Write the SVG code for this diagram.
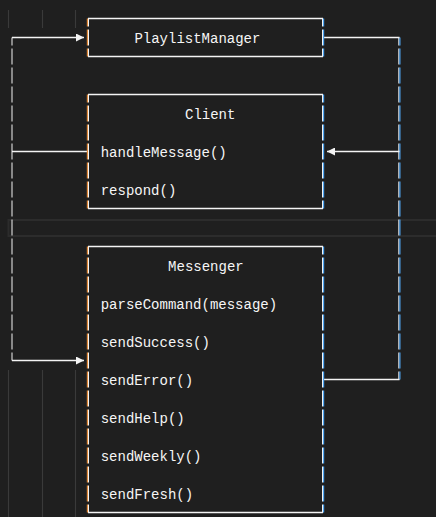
<svg xmlns="http://www.w3.org/2000/svg" width="436" height="517" viewBox="0 0 436 517">
<style>
.t{font-family:"Liberation Mono","DejaVu Sans Mono",monospace;font-size:14px;fill:#f6f6f6}
.h{stroke:#f4f4f4;stroke-width:1.5;fill:none}
.vl{stroke:#e0893a;stroke-width:1.2;stroke-dasharray:16 3;stroke-dashoffset:8;fill:none}
.vw{stroke:#f4f4f4;stroke-width:1;stroke-dasharray:16 3;stroke-dashoffset:8;fill:none}
.vb{stroke:#4ea3f0;stroke-width:1.2;stroke-dasharray:16 3;stroke-dashoffset:8;fill:none}
.g{stroke:#3a3a3a;stroke-width:1.2}
.band{stroke:#2c2c2c;stroke-width:2;fill:none}
</style>
<defs>
<marker id="ar" viewBox="0 0 8 8" refX="8" refY="4" markerWidth="8" markerHeight="8" markerUnits="userSpaceOnUse" orient="auto">
<path d="M0,0 L8,4 L0,8 Z" fill="#f4f4f4"/>
</marker>
</defs>
<rect width="436" height="517" fill="#1f1f1f"/>
<g id="grid">
<line class="g" x1="8.5" y1="10" x2="8.5" y2="28"/>
<line class="g" x1="42.5" y1="10" x2="42.5" y2="28"/>
<line class="g" x1="75.5" y1="10" x2="75.5" y2="28"/>
<line class="g" x1="8.5" y1="370" x2="8.5" y2="517"/>
<line class="g" x1="42.5" y1="370" x2="42.5" y2="517"/>
<line class="g" x1="75.5" y1="370" x2="75.5" y2="517"/>
<path class="band" d="M436,220 H8.5 V236 H436"/>
</g>
<g id="connectors">
<line class="vw" x1="12" y1="37.5" x2="12" y2="360.5"/>
<line class="h" x1="12" y1="37.5" x2="84" y2="37.5" marker-end="url(#ar)"/>
<line class="h" x1="12" y1="151.5" x2="88" y2="151.5"/>
<line class="h" x1="12" y1="360.5" x2="84" y2="360.5" marker-end="url(#ar)"/>
<line class="vw" x1="398.8" y1="37.5" x2="398.8" y2="379.5"/>
<line class="vb" x1="399.9" y1="37.5" x2="399.9" y2="379.5"/>
<line class="h" x1="323" y1="37.5" x2="399.5" y2="37.5"/>
<line class="h" x1="399.5" y1="151.5" x2="327" y2="151.5" marker-end="url(#ar)"/>
<line class="h" x1="323" y1="379.5" x2="399.5" y2="379.5"/>
</g>
<g id="PlaylistManager">
<line class="h" x1="88" y1="18.5" x2="323" y2="18.5"/>
<line class="h" x1="88" y1="56.5" x2="323" y2="56.5"/>
<line class="vl" x1="87.4" y1="18.5" x2="87.4" y2="56.5"/>
<line class="vw" x1="88.5" y1="18.5" x2="88.5" y2="56.5"/>
<line class="vw" x1="322.5" y1="18.5" x2="322.5" y2="56.5"/>
<line class="vb" x1="323.6" y1="18.5" x2="323.6" y2="56.5"/>
<text class="t" x="134.4" y="42.5">PlaylistManager</text>
</g>
<g id="Client">
<line class="h" x1="88" y1="94.5" x2="323" y2="94.5"/>
<line class="h" x1="88" y1="208.5" x2="323" y2="208.5"/>
<line class="vl" x1="87.4" y1="94.5" x2="87.4" y2="208.5"/>
<line class="vw" x1="88.5" y1="94.5" x2="88.5" y2="208.5"/>
<line class="vw" x1="322.5" y1="94.5" x2="322.5" y2="208.5"/>
<line class="vb" x1="323.6" y1="94.5" x2="323.6" y2="208.5"/>
<text class="t" x="185" y="118.5">Client</text>
<text class="t" x="100.7" y="156.5">handleMessage()</text>
<text class="t" x="100.7" y="194.5">respond()</text>
</g>
<g id="Messenger">
<line class="h" x1="88" y1="246.5" x2="323" y2="246.5"/>
<line class="h" x1="88" y1="512.5" x2="323" y2="512.5"/>
<line class="vl" x1="87.4" y1="246.5" x2="87.4" y2="512.5"/>
<line class="vw" x1="88.5" y1="246.5" x2="88.5" y2="512.5"/>
<line class="vw" x1="322.5" y1="246.5" x2="322.5" y2="512.5"/>
<line class="vb" x1="323.6" y1="246.5" x2="323.6" y2="512.5"/>
<text class="t" x="168.1" y="270.5">Messenger</text>
<text class="t" x="100.7" y="308.5">parseCommand(message)</text>
<text class="t" x="100.7" y="346.5">sendSuccess()</text>
<text class="t" x="100.7" y="384.5">sendError()</text>
<text class="t" x="100.7" y="422.5">sendHelp()</text>
<text class="t" x="100.7" y="460.5">sendWeekly()</text>
<text class="t" x="100.7" y="498.5">sendFresh()</text>
</g>
</svg>
